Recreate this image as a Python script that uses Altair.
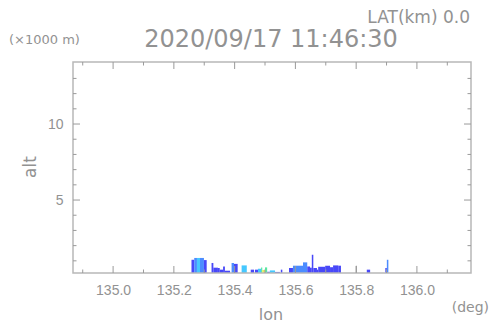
import altair as alt
import pandas as pd

# ---- data ----
seg_start = [135.258, 135.267, 135.276, 135.286, 135.299, 135.324, 135.330, 135.345, 135.351, 135.362,
             135.368, 135.390, 135.398, 135.423, 135.453, 135.467, 135.477, 135.487, 135.491, 135.500,
             135.507, 135.516, 135.533, 135.552, 135.579, 135.592, 135.625, 135.639, 135.648, 135.654,
             135.659, 135.671, 135.675, 135.698, 135.714, 135.724, 135.741, 135.799, 135.835, 135.896,
             135.901]
seg_end = [135.267, 135.276, 135.286, 135.299, 135.308, 135.330, 135.345, 135.351, 135.362, 135.368,
           135.385, 135.398, 135.410, 135.440, 135.464, 135.477, 135.487, 135.491, 135.500, 135.507,
           135.516, 135.533, 135.549, 135.557, 135.592, 135.625, 135.639, 135.648, 135.654, 135.659,
           135.671, 135.675, 135.698, 135.714, 135.724, 135.741, 135.750, 135.802, 135.846, 135.901,
           135.906]
seg_alt = [1.07, 1.19, 1.19, 1.19, 1.05, 0.86, 0.55, 0.53, 0.42, 0.63,
           0.35, 0.86, 0.80, 0.70, 0.42, 0.42, 0.48, 0.57, 0.40, 0.57,
           0.28, 0.37, 0.27, 0.42, 0.53, 0.68, 0.90, 0.63, 0.55, 1.40,
           0.53, 0.42, 0.61, 0.68, 0.58, 0.70, 0.68, 0.68, 0.42, 0.53,
           1.07]
seg_kind = ["b", "lb", "c", "lb", "b", "b", "b", "b", "b", "b",
            "b", "lb", "b", "c", "b", "b", "c", "g", "y", "g",
            "b", "c", "b", "b", "b", "lb", "lb", "b", "b", "b",
            "b", "b", "b", "b", "b", "b", "b", "gr", "b", "b",
            "lb"]

kind_names = ["b", "lb", "c", "g", "y", "gr"]
kind_colors = ["#4848f8", "#4c8cff", "#46c8ff", "#58e8a0", "#e8e860", "#888888"]

x_major = [135.0, 135.2, 135.4, 135.6, 135.8, 136.0]
x_minor = [134.9, 135.1, 135.3, 135.5, 135.7, 135.9, 136.1]
y_major = [5, 10]
y_minor = [1, 2, 3, 4, 6, 7, 8, 9, 11, 12, 13]

LON_DOMAIN = [134.868, 136.178]
ALT_DOMAIN = [0.2, 14.08]

TITLE = "2020/09/17 11:46:30"
SUBTITLE = "LAT(km) 0.0"
UNIT_Y = "(×1000 m)"
UNIT_X = "(deg)"
LABEL_X = "lon"
LABEL_Y = "alt"

# ---- layout / style ----
W, H = 398, 211
TXT = "#929292"
TICK = "#9a9a9a"
FRAME = "#b8b8b8"
FONT = "DejaVu Sans"

xs = alt.Scale(domain=LON_DOMAIN, nice=False, zero=False)
ys = alt.Scale(domain=ALT_DOMAIN, nice=False, zero=False)

x_axis = alt.Axis(values=x_major, format=".1f", title=None, ticks=False, domain=False,
                  grid=False, labelFont="Liberation Sans", labelFontSize=14,
                  labelColor=TXT, labelPadding=10)
y_axis = alt.Axis(values=y_major, title=None, ticks=False, domain=False, grid=False,
                  labelFont="Liberation Sans", labelFontSize=14, labelColor=TXT,
                  labelPadding=10)

seg_df = pd.DataFrame({"lon0": seg_start, "lon1": seg_end, "alt": seg_alt, "kind": seg_kind})
one = pd.DataFrame({"d": [0]})

bars = alt.Chart(seg_df).mark_rect().encode(
    x=alt.X("lon0:Q", scale=xs, axis=x_axis),
    x2="lon1:Q",
    y=alt.Y("alt:Q", scale=ys, axis=y_axis),
    y2=alt.value(H),
    color=alt.Color("kind:N", scale=alt.Scale(domain=kind_names, range=kind_colors), legend=None),
)

frame = alt.Chart(one).mark_rect(fill="transparent", stroke=FRAME, strokeWidth=1.5).encode(
    x=alt.value(0), x2=alt.value(W), y=alt.value(0), y2=alt.value(H))


def xticks(vals, length):
    d = pd.DataFrame({"v": vals})
    bot = alt.Chart(d).mark_rule(color=TICK).encode(
        x=alt.X("v:Q", scale=xs, axis=x_axis), y=alt.value(H), y2=alt.value(H - length))
    top = alt.Chart(d).mark_rule(color=TICK).encode(
        x=alt.X("v:Q", scale=xs, axis=x_axis), y=alt.value(0), y2=alt.value(length))
    return [bot, top]


def yticks(vals, length):
    d = pd.DataFrame({"v": vals})
    left = alt.Chart(d).mark_rule(color=TICK).encode(
        y=alt.Y("v:Q", scale=ys, axis=y_axis), x=alt.value(0), x2=alt.value(length))
    right = alt.Chart(d).mark_rule(color=TICK).encode(
        y=alt.Y("v:Q", scale=ys, axis=y_axis), x=alt.value(W), x2=alt.value(W - length))
    return [left, right]


def label(txt, x, y, size, align="center", angle=0, baseline="middle"):
    kw = dict(font=FONT, fontSize=size, color=TXT, align=align, baseline=baseline)
    if angle:
        kw["angle"] = angle
    return alt.Chart(one).mark_text(**kw).encode(
        x=alt.value(x), y=alt.value(y), text=alt.value(txt))


texts = [
    label(SUBTITLE, 397, -44, 17, align="right"),
    label(TITLE, 198, -22, 24),
    label(UNIT_Y, -64, -22, 13, align="left"),
    label(LABEL_Y, -42, 105, 17, angle=270),
    label(UNIT_X, 416, 246, 14, align="right"),
    label(LABEL_X, 198, 258, 16, baseline="alphabetic"),
]

layers = [bars, frame] + xticks(x_major, 7) + xticks(x_minor, 3.5) + yticks(y_major, 7) + \
    yticks(y_minor, 3.5) + texts

chart = alt.layer(*layers).properties(
    width=W, height=H,
    autosize=alt.AutoSizeParams(type="none"),
    padding={"left": 65, "top": 54, "right": 19, "bottom": 53},
).configure_view(stroke=None)

chart.save("out.html", embed_options={"renderer": "svg", "actions": False})
